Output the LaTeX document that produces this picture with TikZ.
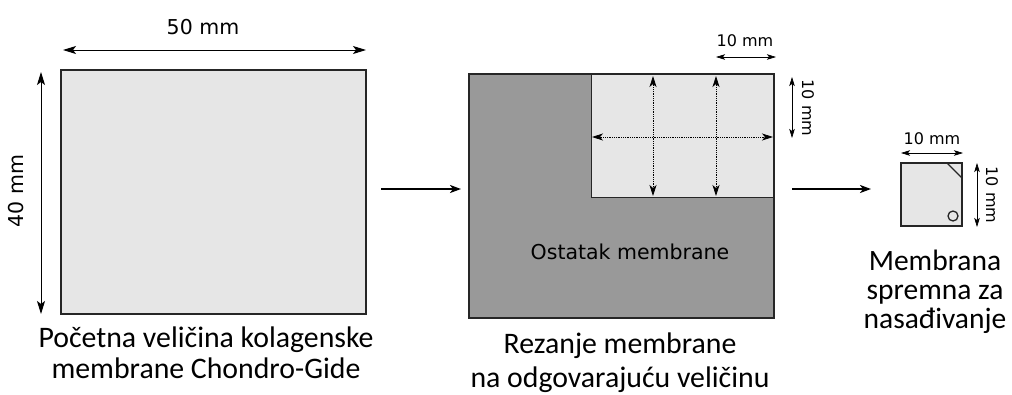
\documentclass[tikz,border=0pt]{standalone}
\usepackage{fontspec}
\setmainfont{Carlito}
\newfontfamily\dimfont{DejaVu Sans}
\usetikzlibrary{arrows.meta}
\definecolor{lightmem}{HTML}{E6E6E6}
\definecolor{darkmem}{HTML}{999999}
\definecolor{edgecol}{HTML}{262626}
\begin{document}
\begin{tikzpicture}[x=1pt,y=-1pt,
  membrane/.style={draw=edgecol, line width=1.8pt, inner sep=0pt, outer sep=0pt, anchor=north west},
  dimarrow/.style={{Stealth[length=13pt,width=8pt,inset=3pt]}-{Stealth[length=13pt,width=8pt,inset=3pt]}, line width=0.9pt},
  smalldim/.style={{Stealth[length=9pt,width=5.5pt,inset=2pt]}-{Stealth[length=9pt,width=5.5pt,inset=2pt]}, line width=0.7pt},
  cutline/.style={{Stealth[length=11pt,width=7pt,inset=3pt]}-{Stealth[length=11pt,width=7pt,inset=3pt]}, densely dotted, line width=0.8pt},
  steparrow/.style={-{Stealth[length=11pt,width=8pt,inset=3pt]}, line width=2.8pt},
  caption/.style={font=\fontsize{29.8}{31}\selectfont, align=center, anchor=center},
  dimlabel/.style={font=\dimfont\fontsize{20.5}{24}\selectfont},
  smalllabel/.style={font=\dimfont\fontsize{16}{19}\selectfont}
]
\useasboundingbox (0,0) rectangle (1012,394);

% first membrane
\node[membrane, fill=lightmem, minimum width=305pt, minimum height=244pt] (m1) at (61,70) {};
\coordinate (h1a) at (63,50); \coordinate (h1b) at (366,50);
\draw[dimarrow] (h1a) -- (h1b);
\node[dimlabel] (l50) at (203,27) {50 mm};
\coordinate (v1a) at (41,72); \coordinate (v1b) at (41,314);
\draw[dimarrow] (v1a) -- (v1b);
\node[dimlabel, rotate=90] (l40) at (16,191) {40 mm};
\node[caption] (c1) at (206,353) {Početna veličina kolagenske\\membrane Chondro-Gide};

% second membrane
\node[membrane, fill=darkmem, minimum width=305pt, minimum height=244pt] (m2) at (469,74) {};
\node[draw=edgecol, line width=0.9pt, fill=lightmem, inner sep=0pt, outer sep=0pt, anchor=north west,
      minimum width=183pt, minimum height=123pt] (cut) at (591,74) {};
\draw[membrane] (m2.north west) rectangle (m2.south east);
\coordinate (d1a) at (653,76); \coordinate (d1b) at (653,196);
\coordinate (d2a) at (716,76); \coordinate (d2b) at (716,196);
\coordinate (d3a) at (592,137); \coordinate (d3b) at (773,137);
\draw[cutline] (d1a) -- (d1b);
\draw[cutline] (d2a) -- (d2b);
\draw[cutline] (d3a) -- (d3b);
\coordinate (h2a) at (716,57); \coordinate (h2b) at (776,57);
\draw[smalldim] (h2a) -- (h2b);
\node[smalllabel] (l10a) at (745,41) {10 mm};
\coordinate (v2a) at (792,77); \coordinate (v2b) at (792,138);
\draw[smalldim] (v2a) -- (v2b);
\node[smalllabel, rotate=-90] (l10b) at (808,108) {10 mm};
\node[dimlabel] (rest) at (630,252) {Ostatak membrane};
\node[caption] (c2) at (620,363) {Rezanje membrane\\[3pt]na odgovarajuću veličinu};

% third membrane
\node[membrane, fill=lightmem, minimum width=61pt, minimum height=63pt] (m3) at (901,163) {};
\coordinate (k1) at (947,163); \coordinate (k2) at (962,178);
\draw[line width=1.3pt, edgecol] (k1) -- (k2);
\node[draw=edgecol, line width=1.3pt, circle, minimum size=10pt, inner sep=0pt] (hole) at (953,216) {};
\coordinate (h3a) at (901,153); \coordinate (h3b) at (963,153);
\draw[smalldim] (h3a) -- (h3b);
\node[smalllabel] (l10c) at (932,139) {10 mm};
\coordinate (v3a) at (977,163); \coordinate (v3b) at (977,227);
\draw[smalldim] (v3a) -- (v3b);
\node[smalllabel, rotate=-90] (l10d) at (992,195) {10 mm};
\node[caption, font=\fontsize{29.5}{29}\selectfont] (c3) at (935,292) {Membrana\\spremna za\\nasađivanje};

% process arrows
\coordinate (a1s) at (381,189); \coordinate (a1e) at (461,189);
\coordinate (a2s) at (792,189); \coordinate (a2e) at (871,189);
\draw[steparrow] (a1s) -- (a1e);
\draw[steparrow] (a2s) -- (a2e);
\end{tikzpicture}
\end{document}
